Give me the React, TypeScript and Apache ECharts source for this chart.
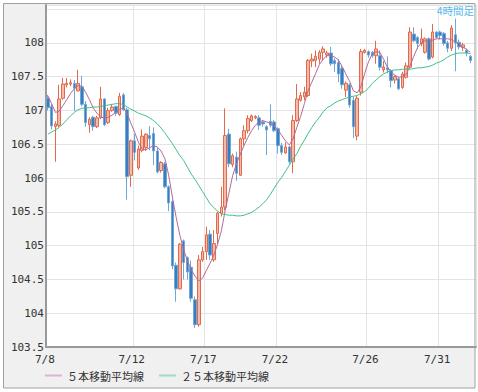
import React, { useEffect, useRef } from "react";
import * as echarts from "echarts";

// [open, close, low, high] per 4-hour bar
const candles: number[][] = [
  [107.18,107.04,107.00,107.23],[107.06,106.77,106.72,107.10],[106.76,106.80,106.24,106.84],[106.78,107.17,106.75,107.38],
  [107.18,107.39,107.16,107.48],[107.38,107.40,107.34,107.48],[107.39,107.41,107.36,107.46],[107.40,107.33,106.99,107.45],
  [107.29,107.40,107.28,107.60],[107.35,107.09,107.06,107.51],[107.09,106.82,106.76,107.14],[106.79,106.87,106.67,106.90],
  [106.90,106.76,106.70,106.92],[106.76,106.89,106.74,106.92],[106.89,107.17,106.87,107.35],[107.17,106.79,106.77,107.18],
  [106.82,107.00,106.80,107.04],[107.00,107.05,106.98,107.08],[107.06,106.96,106.92,107.07],[106.94,107.21,106.92,107.26],
  [107.23,107.01,106.99,107.26],[107.01,106.02,105.68,107.04],[106.04,106.55,105.87,106.57],[106.55,106.38,106.26,106.65],
  [106.15,106.43,106.12,106.48],[106.41,106.62,106.38,106.72],[106.45,106.65,106.40,106.66],[106.63,106.58,106.41,106.77],
  [106.66,106.40,106.19,106.75],[106.40,106.09,106.07,106.45],[106.11,106.23,106.08,106.25],[106.21,105.87,105.85,106.24],
  [105.87,105.63,105.51,105.89],[105.65,104.70,104.65,105.67],[104.71,104.36,104.17,104.75],[104.36,105.02,104.35,105.04],
  [105.07,104.75,104.50,105.09],[104.82,104.61,104.50,104.84],[104.68,104.22,104.17,104.78],[104.20,103.83,103.78,104.25],
  [103.83,104.79,103.80,104.86],[104.79,104.91,104.76,104.98],[104.91,105.16,104.79,105.28],[105.17,104.86,104.79,105.23],
  [104.79,105.03,104.76,105.23],[105.18,105.48,105.03,105.50],[105.48,105.57,105.43,105.87],[105.57,106.63,105.52,107.03],
  [106.65,106.21,106.16,106.73],[106.20,106.33,106.16,106.36],[106.31,106.07,105.96,106.39],[106.04,106.58,106.03,106.60],
  [106.58,106.70,106.48,106.78],[106.70,106.88,106.66,106.93],[106.85,106.92,106.83,106.94],[106.89,106.91,106.87,106.93],
  [106.89,106.78,106.71,106.93],[106.83,106.80,106.76,106.85],[106.76,106.71,106.34,106.78],[106.84,106.78,106.75,107.09],
  [106.83,106.70,106.68,106.86],[106.73,106.48,106.36,106.75],[106.48,106.38,106.34,106.52],[106.37,106.46,106.36,106.53],
  [106.46,106.24,106.21,106.48],[106.24,106.85,106.07,106.93],[106.85,107.17,106.83,107.39],[107.15,107.22,107.13,107.27],
  [107.20,107.27,107.15,107.35],[107.22,107.74,107.20,107.76],[107.73,107.76,107.64,107.84],[107.74,107.80,107.64,107.89],
  [107.76,107.86,107.69,107.89],[107.86,107.91,107.74,107.95],[107.82,107.85,107.78,107.88],[107.85,107.69,107.66,107.94],
  [107.74,107.69,107.57,107.77],[107.71,107.54,107.42,107.76],[107.62,107.38,107.32,107.66],[107.30,107.40,107.20,107.43],
  [107.38,107.08,107.04,107.40],[107.15,106.76,106.59,107.20],[106.62,107.18,106.56,107.21],[107.27,107.87,107.22,107.91],
  [107.86,107.89,107.84,107.91],[107.87,107.82,107.78,107.89],[107.86,107.81,107.78,107.88],[107.81,107.91,107.69,108.03],
  [107.81,107.64,107.59,107.89],[107.60,107.64,107.56,107.73],[107.63,107.60,107.55,107.80],[107.59,107.44,107.34,107.61],
  [107.45,107.50,107.40,107.52],[107.47,107.32,107.30,107.49],[107.34,107.54,107.32,107.57],[107.49,107.66,107.47,107.71],
  [107.64,108.16,107.62,108.23],[108.13,108.03,108.01,108.23],[108.08,107.99,107.91,108.10],[107.99,108.06,107.95,108.21],
  [107.86,108.06,107.84,108.08],[108.06,107.76,107.74,108.08],[107.79,108.16,107.77,108.28],[108.16,108.08,108.06,108.17],
  [108.16,108.11,108.05,108.18],[108.14,107.99,107.96,108.16],[108.00,107.92,107.86,108.03],[107.92,108.22,107.88,108.26],
  [108.12,108.00,107.58,108.36],[108.01,107.94,107.90,108.05],[107.93,107.97,107.88,108.00],[107.89,107.85,107.80,107.92],
  [107.80,107.74,107.70,107.82],
];

const ma5: number[] = [
  107.22,107.10,106.97,106.99,107.07,107.16,107.25,107.32,107.37,107.36,
  107.27,107.16,107.04,106.96,106.90,106.89,106.90,106.93,106.97,107.01,
  107.04,106.96,106.81,106.68,106.53,106.43,106.42,106.45,106.48,106.46,
  106.40,106.29,106.05,105.72,105.42,105.15,104.94,104.78,104.64,104.55,
  104.48,104.52,104.63,104.74,104.86,105.02,105.22,105.52,105.78,106.04,
  106.21,106.35,106.48,106.60,106.70,106.78,106.83,106.85,106.83,106.81,
  106.77,106.71,106.63,106.55,106.49,106.58,106.75,106.91,107.10,107.30,
  107.42,107.55,107.68,107.76,107.81,107.81,107.79,107.75,107.65,107.54,
  107.43,107.29,107.26,107.35,107.55,107.72,107.84,107.87,107.86,107.76,
  107.64,107.57,107.52,107.49,107.50,107.53,107.66,107.80,107.93,108.00,
  108.03,108.03,108.04,108.06,108.06,108.06,108.06,108.05,108.01,107.98,
  107.94,107.90,107.86,
];

const ma25: number[] = [
  106.65,106.68,106.71,106.75,106.80,106.86,106.92,106.97,107.01,107.03,
  107.04,107.04,107.05,107.05,107.06,107.07,107.08,107.09,107.10,107.10,
  107.09,107.05,107.02,106.99,106.96,106.94,106.92,106.89,106.85,106.80,
  106.74,106.67,106.59,106.51,106.42,106.33,106.26,106.16,106.06,105.98,
  105.89,105.80,105.71,105.62,105.56,105.51,105.47,105.46,105.45,105.45,
  105.44,105.44,105.45,105.47,105.49,105.53,105.57,105.62,105.68,105.76,
  105.85,105.94,106.01,106.10,106.19,106.28,106.36,106.47,106.56,106.66,
  106.75,106.83,106.90,106.98,107.04,107.07,107.11,107.14,107.16,107.18,
  107.20,107.21,107.22,107.25,107.28,107.33,107.40,107.45,107.50,107.54,
  107.57,107.59,107.60,107.60,107.61,107.61,107.61,107.62,107.63,107.63,
  107.64,107.65,107.67,107.70,107.72,107.75,107.79,107.82,107.84,107.85,
  107.85,107.85,107.84,
];

const barCount = 114;
const tickLabels = ["7/8", "7/12", "7/17", "7/22", "7/26", "7/31"];
const tickIndex = [0, 23, 42, 61, 85, 104];
const yTicks = [103.5, 104, 104.5, 105, 105.5, 106, 106.5, 107, 107.5, 108];

export default function App() {
  const ref = useRef<HTMLDivElement>(null);
  useEffect(() => {
    if (!ref.current) return;
    const chart = echarts.init(ref.current, null, { renderer: "svg" });
    const categories = Array.from({ length: barCount }, (_, i) => String(i));
    const labelAt = (i: number) => {
      const k = tickIndex.indexOf(i);
      return k >= 0 ? tickLabels[k] : "";
    };
    const mono = "'DejaVu Sans Mono', monospace";
    const cjk = "'Noto Sans CJK JP', sans-serif";
    chart.setOption({
      animation: false,
      backgroundColor: "#ffffff",
      graphic: [
        {
          type: "rect",
          z: -10,
          shape: { x: 3.5, y: 3.5, width: 471.5, height: 384.5 },
          style: { fill: "#f0f0f0", stroke: "none" },
        },
        {
          type: "rect",
          z: 100,
          shape: { x: 3.5, y: 3.5, width: 471.5, height: 384.5 },
          style: { fill: "none", stroke: "#a0a0a0", lineWidth: 1 },
          silent: true,
        },
        {
          type: "text",
          z: 101,
          right: 4,
          top: 5,
          style: { text: "4時間足", fill: "#55b9ea", font: `10.5px ${cjk}` },
        },
      ],
      grid: {
        left: 46,
        right: 2,
        top: 5,
        bottom: 45,
        show: true,
        backgroundColor: "#ffffff",
        borderWidth: 0,
      },
      legend: {
        left: 45,
        top: 370,
        padding: 0,
        itemWidth: 17,
        itemHeight: 2,
        itemGap: 15,
        textStyle: { fontFamily: cjk, fontSize: 11, color: "#333333" },
        data: [
          { name: "５本移動平均線", icon: "rect", itemStyle: { color: "#dfb2cd" } },
          { name: "２５本移動平均線", icon: "rect", itemStyle: { color: "#9fdcc3" } },
        ],
      },
      xAxis: {
        type: "category",
        data: categories,
        boundaryGap: true,
        axisLine: { show: true, lineStyle: { color: "#9a9a9a", width: 2 } },
        axisTick: { show: false },
        axisLabel: {
          interval: (i: number) => tickIndex.indexOf(i) >= 0,
          formatter: (_v: string, i: number) => labelAt(i),
          fontFamily: mono,
          fontSize: 11,
          color: "#333333",
          margin: 7,
          padding: [0, 6, 0, 0],
        },
        splitLine: {
          show: true,
          interval: (i: number) => tickIndex.indexOf(i) > 0,
          lineStyle: { color: "#e4e4e4", width: 1 },
        },
      },
      yAxis: {
        type: "value",
        min: 103.5,
        max: 108.56,
        interval: 0.5,
        axisLine: { show: true, lineStyle: { color: "#9a9a9a", width: 2 } },
        axisTick: { show: false },
        axisLabel: {
          showMaxLabel: false,
          formatter: (v: number) =>
            yTicks.some((t) => Math.abs(t - v) < 1e-6) ? String(v) : "",
          fontFamily: mono,
          fontSize: 11,
          color: "#333333",
          margin: 2,
        },
        splitLine: { show: true, lineStyle: { color: "#e4e4e4", width: 1 } },
      },
      series: [
        {
          name: "4時間足",
          type: "candlestick",
          data: candles,
          barWidth: 3,
          itemStyle: {
            color: "#f5bba8",
            borderColor: "#e2694a",
            color0: "#3a7dbf",
            borderColor0: "#6fa7d8",
            borderWidth: 1,
          },
        },
        {
          name: "５本移動平均線",
          type: "line",
          data: ma5,
          symbol: "none",
          lineStyle: { color: "#b4689a", width: 1 },
          itemStyle: { color: "#b4689a" },
          z: 5,
        },
        {
          name: "２５本移動平均線",
          type: "line",
          data: ma25,
          symbol: "none",
          lineStyle: { color: "#3fc088", width: 1 },
          itemStyle: { color: "#3fc088" },
          z: 5,
        },
      ],
    });
    return () => chart.dispose();
  }, []);
  return (
    <div
      ref={ref}
      style={{ position: "absolute", left: 0, top: 0, width: 478, height: 392 }}
    />
  );
}
